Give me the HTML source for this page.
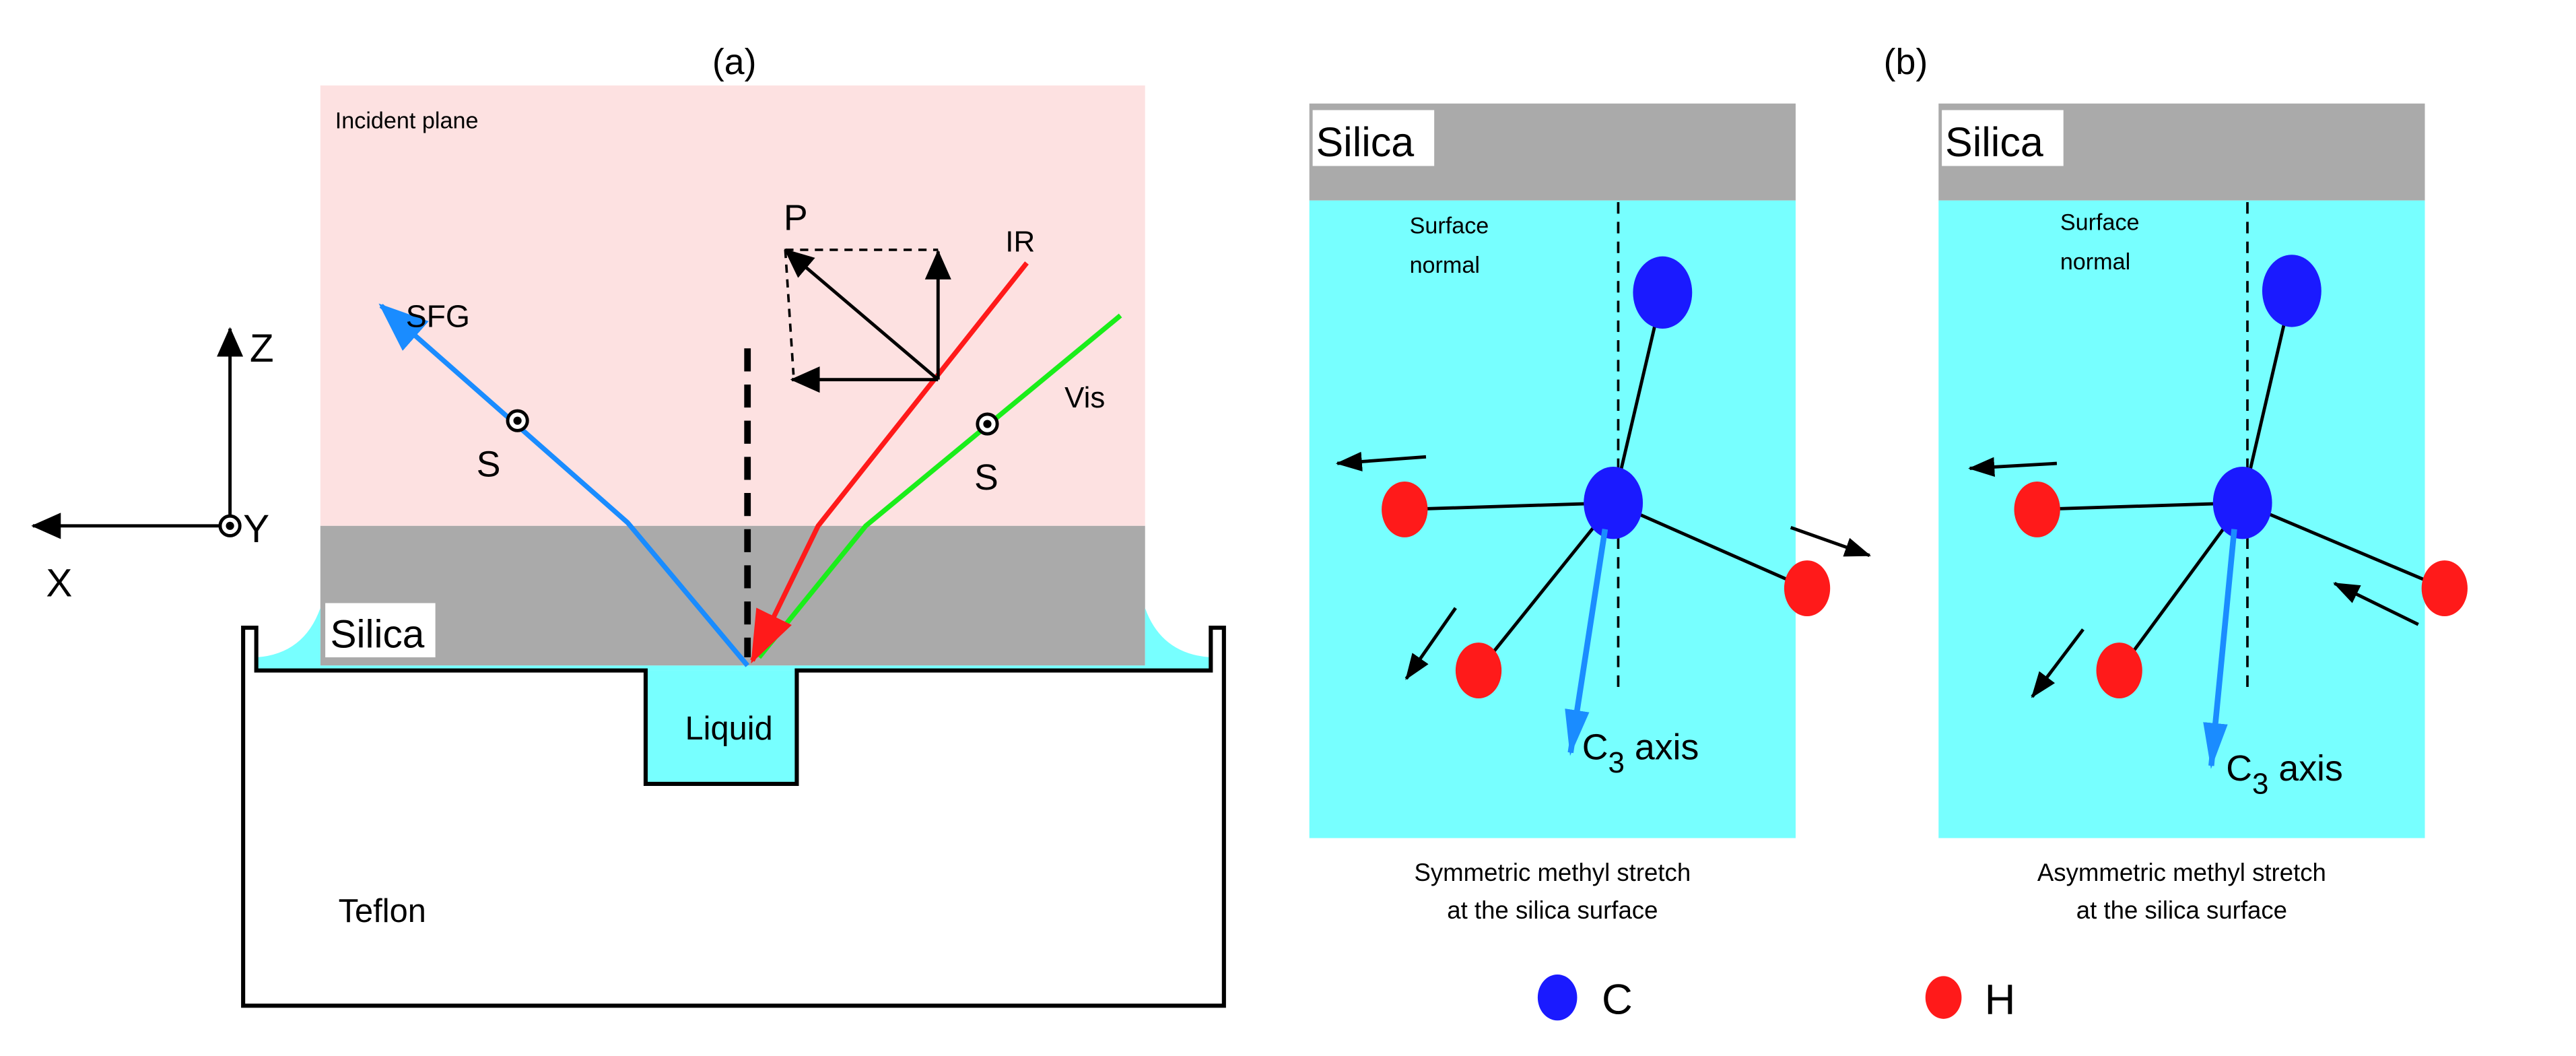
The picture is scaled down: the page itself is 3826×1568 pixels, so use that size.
<!DOCTYPE html>
<html><head><style>html,body{margin:0;padding:0;background:#fff}svg{display:block}</style></head>
<body>
<svg width="3826" height="1568" viewBox="0 0 1568 642.6" xmlns="http://www.w3.org/2000/svg" font-family="Liberation Sans, sans-serif">
<defs>
<marker id="ak" markerWidth="18" markerHeight="16" refX="17" refY="8" orient="auto" markerUnits="userSpaceOnUse"><path d="M0,0 L18,8 L0,16 z" fill="#000"/></marker>
<marker id="akb" markerWidth="16" markerHeight="12" refX="15" refY="6" orient="auto" markerUnits="userSpaceOnUse"><path d="M0,0 L16,6 L0,12 z" fill="#000"/></marker>
<marker id="ab" markerWidth="30" markerHeight="24" refX="28" refY="12" orient="auto" markerUnits="userSpaceOnUse"><path d="M0,0 L30,12 L0,24 z" fill="#1a8cff"/></marker>
<marker id="ab2" markerWidth="28" markerHeight="15" refX="26" refY="7.5" orient="auto" markerUnits="userSpaceOnUse"><path d="M0,0 L28,7.5 L0,15 z" fill="#1a8cff"/></marker>
<marker id="ar" markerWidth="32" markerHeight="24" refX="30" refY="12" orient="auto" markerUnits="userSpaceOnUse"><path d="M0,0 L32,12 L0,24 z" fill="#ff1a1a"/></marker>
</defs>
<text x="447" y="45" font-size="22" text-anchor="middle">(a)</text>
<rect x="195" y="52" width="502" height="268" fill="#fde1e1"/>
<rect x="195" y="320" width="502" height="85" fill="#aaaaaa"/>
<path d="M156,408 L156,400 Q185,398 195,370 L195,408 Z" fill="#77ffff"/>
<path d="M737,408 L737,400 Q707,398 697,370 L697,408 Z" fill="#77ffff"/>
<rect x="156" y="405" width="581" height="3" fill="#77ffff"/>
<rect x="393" y="408" width="92" height="69" fill="#77ffff"/>
<path d="M148,382 L156,382 L156,408 L393,408 L393,477 L485,477 L485,408 L737,408 L737,382 L745,382 L745,612 L148,612 Z" fill="none" stroke="#000" stroke-width="2.5"/>
<rect x="198" y="367" width="67" height="33" fill="#fff"/>
<text x="201" y="394" font-size="24">Silica</text>
<text x="417" y="450" font-size="20">Liquid</text>
<text x="206" y="561" font-size="20">Teflon</text>
<text x="204" y="78" font-size="14">Incident plane</text>
<line x1="140" y1="320" x2="140" y2="200" stroke="#000" stroke-width="2" marker-end="url(#ak)"/>
<line x1="134" y1="320" x2="20" y2="320" stroke="#000" stroke-width="2" marker-end="url(#ak)"/>
<circle cx="140" cy="320" r="6" fill="#fff" stroke="#000" stroke-width="2"/><circle cx="140" cy="320" r="2.5" fill="#000"/>
<text x="152" y="220" font-size="24">Z</text>
<text x="148" y="330" font-size="24">Y</text>
<text x="28" y="363" font-size="24">X</text>
<line x1="455" y1="212" x2="455" y2="400" stroke="#000" stroke-width="4" stroke-dasharray="14,8"/>
<polyline points="455,405 382,318 232,186" fill="none" stroke="#1a8cff" stroke-width="3" marker-end="url(#ab)"/>
<circle cx="315" cy="256" r="6" fill="#fff" stroke="#000" stroke-width="2"/><circle cx="315" cy="256" r="2.5" fill="#000"/>
<text x="247" y="199" font-size="19">SFG</text>
<text x="290" y="290" font-size="22">S</text>
<polyline points="682,192 527,320 462,400" fill="none" stroke="#1aee1a" stroke-width="3"/>
<circle cx="601" cy="258" r="6" fill="#fff" stroke="#000" stroke-width="2"/><circle cx="601" cy="258" r="2.5" fill="#000"/>
<text x="648" y="248" font-size="18">Vis</text>
<text x="593" y="298" font-size="22">S</text>
<polyline points="625,160 498,320 458,402" fill="none" stroke="#ff1a1a" stroke-width="3" marker-end="url(#ar)"/>
<text x="612" y="153" font-size="18">IR</text>
<text x="477" y="140" font-size="22">P</text>
<path d="M478,152 L571,152 M478,152 L483,228" stroke="#000" stroke-width="1.5" stroke-dasharray="5,4" fill="none"/>
<line x1="571" y1="231" x2="571" y2="153" stroke="#000" stroke-width="2" marker-end="url(#ak)"/>
<line x1="571" y1="231" x2="482" y2="231" stroke="#000" stroke-width="2" marker-end="url(#ak)"/>
<line x1="571" y1="231" x2="478" y2="152" stroke="#000" stroke-width="2" marker-end="url(#ak)"/>

<text x="1160" y="45" font-size="22" text-anchor="middle">(b)</text>
<g id="pl">
<rect x="797" y="63" width="296" height="59" fill="#aaaaaa"/>
<rect x="797" y="122" width="296" height="388" fill="#77ffff"/>
<rect x="799" y="67" width="74" height="34" fill="#fff"/>
<text x="801" y="95" font-size="25">Silica</text>
</g>
<use href="#pl" x="383"/>
<text x="858" y="142" font-size="14">Surface</text><text x="858" y="166" font-size="14">normal</text>
<text x="1254" y="140" font-size="14">Surface</text><text x="1254" y="164" font-size="14">normal</text>
<line x1="985" y1="123" x2="985" y2="420" stroke="#000" stroke-width="1.5" stroke-dasharray="7,5"/>
<line x1="1368" y1="123" x2="1368" y2="420" stroke="#000" stroke-width="1.5" stroke-dasharray="7,5"/>
<g stroke="#000" stroke-width="2">
<line x1="982" y1="306" x2="1012" y2="178"/><line x1="982" y1="306" x2="855" y2="310"/><line x1="982" y1="306" x2="1100" y2="358"/><line x1="982" y1="306" x2="900" y2="408"/>
<line x1="1365" y1="306" x2="1395" y2="177"/><line x1="1365" y1="306" x2="1240" y2="310"/><line x1="1365" y1="306" x2="1488" y2="358"/><line x1="1365" y1="306" x2="1290" y2="408"/>
</g>
<g fill="#1a1aff"><ellipse cx="1012" cy="178" rx="18" ry="22"/><ellipse cx="982" cy="306" rx="18" ry="22"/><ellipse cx="1395" cy="177" rx="18" ry="22"/><ellipse cx="1365" cy="306" rx="18" ry="22"/></g>
<g fill="#ff1a1a"><ellipse cx="855" cy="310" rx="14" ry="17"/><ellipse cx="1100" cy="358" rx="14" ry="17"/><ellipse cx="900" cy="408" rx="14" ry="17"/>
<ellipse cx="1240" cy="310" rx="14" ry="17"/><ellipse cx="1488" cy="358" rx="14" ry="17"/><ellipse cx="1290" cy="408" rx="14" ry="17"/></g>
<line x1="977" y1="322" x2="956" y2="458" stroke="#1a8cff" stroke-width="3.5" marker-end="url(#ab2)"/>
<line x1="1360" y1="322" x2="1346" y2="466" stroke="#1a8cff" stroke-width="3.5" marker-end="url(#ab2)"/>
<text x="963" y="462" font-size="22">C<tspan font-size="18" dy="8">3</tspan><tspan dy="-8"> axis</tspan></text>
<text x="1355" y="475" font-size="22">C<tspan font-size="18" dy="8">3</tspan><tspan dy="-8"> axis</tspan></text>
<g stroke="#000" stroke-width="2">
<line x1="868" y1="278" x2="814" y2="282" marker-end="url(#akb)"/>
<line x1="1090" y1="321" x2="1138" y2="338" marker-end="url(#akb)"/>
<line x1="886" y1="370" x2="856" y2="413" marker-end="url(#akb)"/>
<line x1="1252" y1="282" x2="1199" y2="285" marker-end="url(#akb)"/>
<line x1="1472" y1="380" x2="1421" y2="355" marker-end="url(#akb)"/>
<line x1="1268" y1="383" x2="1237" y2="424" marker-end="url(#akb)"/>
</g>
<text x="945" y="536" font-size="15" text-anchor="middle">Symmetric methyl stretch</text>
<text x="945" y="559" font-size="15" text-anchor="middle">at the silica surface</text>
<text x="1328" y="536" font-size="15" text-anchor="middle">Asymmetric methyl stretch</text>
<text x="1328" y="559" font-size="15" text-anchor="middle">at the silica surface</text>
<ellipse cx="948" cy="607" rx="12" ry="14" fill="#1a1aff"/>
<text x="975" y="617" font-size="26">C</text>
<ellipse cx="1183" cy="607" rx="11" ry="13" fill="#ff1a1a"/>
<text x="1208" y="617" font-size="26">H</text>
</svg>
</body></html>
